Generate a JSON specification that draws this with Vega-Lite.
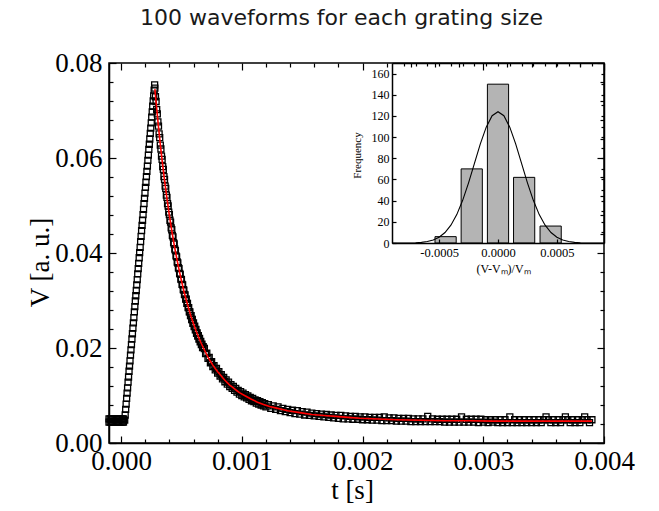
{
  "$schema": "https://vega.github.io/schema/vega-lite/v6.json",
  "width": 495,
  "height": 380,
  "autosize": {"type": "none"},
  "padding": {"left": 109, "top": 63, "right": 55, "bottom": 68},
  "title": {"text": "100 waveforms for each grating size", "font": "DejaVu Sans", "fontSize": 22, "fontWeight": "normal", "color": "#1a1a1a", "anchor": "middle", "baseline": "alphabetic", "offset": 35, "dx": -15, "dy": 33},
  "datasets": {
    "wave": [
      {"t":-0.0001,"V":0.0044},{"t":-0.0001,"V":0.0051},{"t":-0.00009,"V":0.0044},{"t":-0.00009,"V":0.0051},{"t":-0.00008,"V":0.0044},{"t":-0.00008,"V":0.0051},{"t":-0.00007,"V":0.0044},{"t":-0.00007,"V":0.0051},{"t":-0.00006,"V":0.0044},{"t":-0.00006,"V":0.0051},{"t":-0.00005,"V":0.0044},{"t":-0.00005,"V":0.0051},{"t":-0.00004,"V":0.0044},{"t":-0.00004,"V":0.0051},{"t":-0.00003,"V":0.0044},{"t":-0.00003,"V":0.0051},{"t":-0.00002,"V":0.0044},{"t":-0.00002,"V":0.0051},{"t":-0.00001,"V":0.0044},{"t":-0.00001,"V":0.0051},{"t":0,"V":0.0044},{"t":0,"V":0.0051},{"t":0.00001,"V":0.0044},{"t":0.00001,"V":0.0051},{"t":0.00002,"V":0.0044},{"t":0.00002,"V":0.0051},
      {"t":0.00003,"V":0.0048},{"t":0.000034,"V":0.0059},{"t":0.000038,"V":0.0071},{"t":0.000042,"V":0.0082},{"t":0.000046,"V":0.0094},{"t":0.00005,"V":0.0105},{"t":0.000054,"V":0.0116},{"t":0.000058,"V":0.0128},{"t":0.000062,"V":0.0139},{"t":0.000066,"V":0.0151},{"t":0.00007,"V":0.0162},{"t":0.000074,"V":0.0173},{"t":0.000078,"V":0.0185},{"t":0.000082,"V":0.0196},{"t":0.000086,"V":0.0207},{"t":0.00009,"V":0.0219},{"t":0.000094,"V":0.023},{"t":0.000098,"V":0.0242},{"t":0.000102,"V":0.0253},{"t":0.000106,"V":0.0264},{"t":0.00011,"V":0.0276},{"t":0.000114,"V":0.0287},{"t":0.000118,"V":0.0299},{"t":0.000122,"V":0.031},{"t":0.000126,"V":0.0321},{"t":0.00013,"V":0.0333},{"t":0.000134,"V":0.0344},{"t":0.000138,"V":0.0356},{"t":0.000142,"V":0.0367},{"t":0.000146,"V":0.0378},{"t":0.00015,"V":0.039},{"t":0.000154,"V":0.0401},{"t":0.000158,"V":0.0412},{"t":0.000162,"V":0.0424},{"t":0.000166,"V":0.0435},{"t":0.00017,"V":0.0447},{"t":0.000174,"V":0.0458},{"t":0.000178,"V":0.0469},{"t":0.000182,"V":0.0481},{"t":0.000186,"V":0.0492},{"t":0.00019,"V":0.0504},{"t":0.000194,"V":0.0515},{"t":0.000198,"V":0.0526},{"t":0.000202,"V":0.0538},{"t":0.000206,"V":0.0549},{"t":0.00021,"V":0.0561},{"t":0.000214,"V":0.0572},{"t":0.000218,"V":0.0583},{"t":0.000222,"V":0.0595},{"t":0.000226,"V":0.0606},{"t":0.00023,"V":0.0618},{"t":0.000234,"V":0.0629},{"t":0.000238,"V":0.064},{"t":0.000242,"V":0.0652},{"t":0.000246,"V":0.0663},{"t":0.00025,"V":0.0674},{"t":0.000254,"V":0.0686},{"t":0.000258,"V":0.0697},{"t":0.000262,"V":0.0709},{"t":0.000266,"V":0.072},{"t":0.00027,"V":0.0731},{"t":0.000274,"V":0.0743},{"t":0.000278,"V":0.0754},
      {"t":0.00028,"V":0.0747},{"t":0.00029,"V":0.0719},{"t":0.0003,"V":0.0693},{"t":0.00031,"V":0.0667},{"t":0.00032,"V":0.0643},{"t":0.00033,"V":0.0619},{"t":0.00034,"V":0.0597},{"t":0.00035,"V":0.0576},{"t":0.00036,"V":0.0555},{"t":0.00037,"V":0.0536},{"t":0.00038,"V":0.0517},{"t":0.00039,"V":0.0499},{"t":0.0004,"V":0.0481},{"t":0.00041,"V":0.0465},{"t":0.00042,"V":0.0449},{"t":0.00043,"V":0.0434},{"t":0.00044,"V":0.0419},{"t":0.00045,"V":0.0405},{"t":0.00046,"V":0.0392},{"t":0.00047,"V":0.0379},{"t":0.00048,"V":0.0367},{"t":0.00049,"V":0.0355},{"t":0.0005,"V":0.0344},{"t":0.00051,"V":0.0333},{"t":0.00052,"V":0.0322},{"t":0.00053,"V":0.0312},{"t":0.00054,"V":0.0303},{"t":0.00055,"V":0.0294},{"t":0.00056,"V":0.0285},{"t":0.00057,"V":0.0276},{"t":0.00058,"V":0.0268},{"t":0.00059,"V":0.026},{"t":0.0006,"V":0.0253},{"t":0.00061,"V":0.0246},{"t":0.00062,"V":0.0239},{"t":0.00063,"V":0.0232},{"t":0.00064,"V":0.0226},{"t":0.00065,"V":0.022},{"t":0.00066,"V":0.0214},{"t":0.00067,"V":0.0208},{"t":0.00068,"V":0.0203},
      {"t":0.000285,"V":0.0729},{"t":0.000295,"V":0.0702},{"t":0.000305,"V":0.0676},{"t":0.000315,"V":0.0651},{"t":0.000325,"V":0.0627},{"t":0.000335,"V":0.0604},{"t":0.000345,"V":0.0582},{"t":0.000355,"V":0.0561},{"t":0.000365,"V":0.0541},{"t":0.000375,"V":0.0522},{"t":0.000385,"V":0.0504},{"t":0.000395,"V":0.0486},{"t":0.000405,"V":0.0469},{"t":0.000415,"V":0.0453},{"t":0.000425,"V":0.0437},{"t":0.000435,"V":0.0422},{"t":0.000445,"V":0.0408},{"t":0.000455,"V":0.0394},{"t":0.000465,"V":0.0381},{"t":0.000475,"V":0.0369},{"t":0.000485,"V":0.0357},{"t":0.000495,"V":0.0345},{"t":0.000505,"V":0.0334},{"t":0.000515,"V":0.0323},{"t":0.000525,"V":0.0313},{"t":0.000535,"V":0.0303},{"t":0.000545,"V":0.0294},{"t":0.000555,"V":0.0285},{"t":0.000565,"V":0.0276},{"t":0.000575,"V":0.0268},{"t":0.000585,"V":0.026},{"t":0.000595,"V":0.0252},{"t":0.000605,"V":0.0245},{"t":0.000615,"V":0.0238},{"t":0.000625,"V":0.0231},{"t":0.000635,"V":0.0225},{"t":0.000645,"V":0.0219},{"t":0.000655,"V":0.0213},{"t":0.000665,"V":0.0207},{"t":0.000675,"V":0.0201},
      {"t":0.00069,"V":0.0199},{"t":0.0007,"V":0.0188},{"t":0.00071,"V":0.0189},{"t":0.00072,"V":0.0178},{"t":0.00073,"V":0.018},{"t":0.00074,"V":0.0169},{"t":0.00075,"V":0.0171},{"t":0.00076,"V":0.0161},{"t":0.00077,"V":0.0163},{"t":0.00078,"V":0.0154},{"t":0.00079,"V":0.0157},{"t":0.0008,"V":0.0147},{"t":0.00081,"V":0.015},{"t":0.00082,"V":0.0141},{"t":0.00083,"V":0.0144},{"t":0.00084,"V":0.0135},{"t":0.00085,"V":0.0138},{"t":0.00086,"V":0.0129},{"t":0.00087,"V":0.0133},{"t":0.00088,"V":0.0124},{"t":0.00089,"V":0.0128},{"t":0.0009,"V":0.0119},{"t":0.00091,"V":0.0123},{"t":0.00092,"V":0.0115},{"t":0.00093,"V":0.0119},{"t":0.00094,"V":0.0111},{"t":0.00095,"V":0.0115},{"t":0.00096,"V":0.0107},{"t":0.00097,"V":0.0111},{"t":0.00098,"V":0.0103},{"t":0.00099,"V":0.0108},{"t":0.001,"V":0.01},{"t":0.00101,"V":0.0105},{"t":0.00102,"V":0.0097},{"t":0.00103,"V":0.0102},{"t":0.00104,"V":0.0095},{"t":0.00105,"V":0.0099},{"t":0.00106,"V":0.0092},{"t":0.00107,"V":0.0096},{"t":0.00108,"V":0.0089},{"t":0.00109,"V":0.0094},{"t":0.0011,"V":0.0087},{"t":0.00111,"V":0.0091},{"t":0.00112,"V":0.0084},{"t":0.00113,"V":0.0089},{"t":0.00114,"V":0.0082},{"t":0.00115,"V":0.0087},{"t":0.00116,"V":0.008},{"t":0.00117,"V":0.0085},{"t":0.00118,"V":0.0078},{"t":0.00119,"V":0.0083},{"t":0.0012,"V":0.0076},
      {"t":0.00122,"V":0.0081},{"t":0.00124,"V":0.0073},{"t":0.00126,"V":0.0078},{"t":0.00128,"V":0.0071},{"t":0.0013,"V":0.0076},{"t":0.00132,"V":0.0068},{"t":0.00134,"V":0.0073},{"t":0.00136,"V":0.0066},{"t":0.00138,"V":0.0071},{"t":0.0014,"V":0.0064},{"t":0.00142,"V":0.0069},{"t":0.00144,"V":0.0062},{"t":0.00146,"V":0.0068},{"t":0.00148,"V":0.0061},{"t":0.0015,"V":0.0066},{"t":0.00152,"V":0.0059},{"t":0.00154,"V":0.0065},{"t":0.00156,"V":0.0058},{"t":0.00158,"V":0.0063},{"t":0.0016,"V":0.0057},{"t":0.00162,"V":0.0062},{"t":0.00164,"V":0.0056},{"t":0.00166,"V":0.0061},{"t":0.00168,"V":0.0055},{"t":0.0017,"V":0.006},{"t":0.00172,"V":0.0054},{"t":0.00174,"V":0.0059},{"t":0.00176,"V":0.0053},{"t":0.00178,"V":0.0058},{"t":0.0018,"V":0.0052},{"t":0.00182,"V":0.0058},{"t":0.00184,"V":0.0051},{"t":0.00186,"V":0.0057},{"t":0.00188,"V":0.0051},{"t":0.0019,"V":0.0056},{"t":0.00192,"V":0.005},{"t":0.00194,"V":0.0056},{"t":0.00196,"V":0.005},{"t":0.00198,"V":0.0055},{"t":0.002,"V":0.0049},{"t":0.00202,"V":0.0055},{"t":0.00204,"V":0.0049},{"t":0.00206,"V":0.0054},{"t":0.00208,"V":0.0048},{"t":0.0021,"V":0.0054},{"t":0.00212,"V":0.0048},{"t":0.00214,"V":0.0054},{"t":0.00216,"V":0.0047},{"t":0.00218,"V":0.0055},{"t":0.0022,"V":0.0047},{"t":0.00222,"V":0.0053},{"t":0.00224,"V":0.0047},{"t":0.00226,"V":0.0053},{"t":0.00228,"V":0.0046},{"t":0.0023,"V":0.0052},{"t":0.00232,"V":0.0046},{"t":0.00234,"V":0.0052},{"t":0.00236,"V":0.0046},{"t":0.00238,"V":0.0052},{"t":0.0024,"V":0.0045},{"t":0.00242,"V":0.0051},{"t":0.00244,"V":0.0045},{"t":0.00246,"V":0.0051},{"t":0.00248,"V":0.0045},{"t":0.0025,"V":0.0051},{"t":0.00252,"V":0.0045},{"t":0.00254,"V":0.0056},{"t":0.00256,"V":0.0045},{"t":0.00258,"V":0.0051},{"t":0.0026,"V":0.0045},{"t":0.00262,"V":0.005},{"t":0.00264,"V":0.0045},{"t":0.00266,"V":0.005},{"t":0.00268,"V":0.0044},{"t":0.0027,"V":0.005},{"t":0.00272,"V":0.0044},{"t":0.00274,"V":0.005},{"t":0.00276,"V":0.0044},{"t":0.00278,"V":0.005},{"t":0.0028,"V":0.0044},{"t":0.00282,"V":0.0055},{"t":0.00284,"V":0.0044},{"t":0.00286,"V":0.005},{"t":0.00288,"V":0.0044},{"t":0.0029,"V":0.005},{"t":0.00292,"V":0.0044},{"t":0.00294,"V":0.005},{"t":0.00296,"V":0.0043},{"t":0.00298,"V":0.005},{"t":0.003,"V":0.0044},{"t":0.00302,"V":0.0049},{"t":0.00304,"V":0.0043},{"t":0.00306,"V":0.0049},{"t":0.00308,"V":0.0044},{"t":0.0031,"V":0.0049},{"t":0.00312,"V":0.0043},{"t":0.00314,"V":0.0049},{"t":0.00316,"V":0.0043},{"t":0.00318,"V":0.0049},{"t":0.0032,"V":0.0043},{"t":0.00322,"V":0.0055},{"t":0.00324,"V":0.0043},{"t":0.00326,"V":0.0049},{"t":0.00328,"V":0.0043},{"t":0.0033,"V":0.0049},{"t":0.00332,"V":0.0043},{"t":0.00334,"V":0.0049},{"t":0.00336,"V":0.0043},{"t":0.00338,"V":0.0049},{"t":0.0034,"V":0.0043},{"t":0.00342,"V":0.0049},{"t":0.00344,"V":0.0043},{"t":0.00346,"V":0.0049},{"t":0.00348,"V":0.0043},{"t":0.0035,"V":0.0049},{"t":0.00352,"V":0.0055},{"t":0.00354,"V":0.0049},{"t":0.00356,"V":0.0043},{"t":0.00358,"V":0.0049},{"t":0.0036,"V":0.0043},{"t":0.00362,"V":0.0049},{"t":0.00364,"V":0.0043},{"t":0.00366,"V":0.0049},{"t":0.00368,"V":0.0055},{"t":0.0037,"V":0.0049},{"t":0.00372,"V":0.0043},{"t":0.00374,"V":0.0049},{"t":0.00376,"V":0.0043},{"t":0.00378,"V":0.0049},{"t":0.0038,"V":0.0043},{"t":0.00382,"V":0.0049},{"t":0.00384,"V":0.0055},{"t":0.00386,"V":0.0049},{"t":0.00388,"V":0.0043},{"t":0.0039,"V":0.0049}
    ],
    "fit": [
      {"t":0.00028,"V":0.0745},{"t":0.00029,"V":0.0717},{"t":0.0003,"V":0.0691},{"t":0.00031,"V":0.0665},{"t":0.00032,"V":0.0641},{"t":0.00033,"V":0.0617},{"t":0.00034,"V":0.0595},{"t":0.00035,"V":0.0574},{"t":0.00036,"V":0.0553},{"t":0.00037,"V":0.0534},{"t":0.00038,"V":0.0515},{"t":0.0004,"V":0.0479},{"t":0.00042,"V":0.0447},{"t":0.00044,"V":0.0417},{"t":0.00046,"V":0.039},{"t":0.00048,"V":0.0365},{"t":0.0005,"V":0.0342},{"t":0.00052,"V":0.032},{"t":0.00054,"V":0.0301},{"t":0.00056,"V":0.0283},{"t":0.00058,"V":0.0266},{"t":0.0006,"V":0.0251},{"t":0.00062,"V":0.0237},{"t":0.00064,"V":0.0224},{"t":0.00066,"V":0.0212},{"t":0.00068,"V":0.0201},{"t":0.0007,"V":0.0191},{"t":0.00072,"V":0.0181},{"t":0.00074,"V":0.0172},{"t":0.00076,"V":0.0164},{"t":0.00078,"V":0.0157},{"t":0.0008,"V":0.015},{"t":0.00082,"V":0.0144},{"t":0.00084,"V":0.0138},{"t":0.00086,"V":0.0132},{"t":0.00088,"V":0.0127},{"t":0.0009,"V":0.0122},{"t":0.00092,"V":0.0118},{"t":0.00094,"V":0.0114},{"t":0.00096,"V":0.011},{"t":0.00098,"V":0.0106},{"t":0.00103,"V":0.0099},{"t":0.00108,"V":0.0092},{"t":0.00113,"V":0.0086},{"t":0.00118,"V":0.0081},{"t":0.00123,"V":0.0077},{"t":0.00128,"V":0.0074},{"t":0.00138,"V":0.0068},{"t":0.00148,"V":0.0064},{"t":0.00158,"V":0.006},{"t":0.00168,"V":0.0058},{"t":0.00178,"V":0.0056},{"t":0.00188,"V":0.0054},{"t":0.00198,"V":0.0052},{"t":0.00208,"V":0.0051},{"t":0.00218,"V":0.005},{"t":0.00228,"V":0.0049},{"t":0.00248,"V":0.0048},{"t":0.00268,"V":0.0047},{"t":0.00288,"V":0.0047},{"t":0.00308,"V":0.0046},{"t":0.0033,"V":0.0046},{"t":0.0036,"V":0.0046},{"t":0.0039,"V":0.0046}
    ],
    "hist": [
      {"lo":-0.000535,"hi":-0.000355,"n":6},{"lo":-0.000313,"hi":-0.000133,"n":70},{"lo":-0.00009,"hi":0.00009,"n":150},{"lo":0.000132,"hi":0.000312,"n":62},{"lo":0.000357,"hi":0.000537,"n":16}
    ],
    "gauss": [
      {"x":-0.0009,"f":0},{"x":-0.0008,"f":0.04},{"x":-0.0007,"f":0.3},{"x":-0.00065,"f":0.6},{"x":-0.0006,"f":1.4},{"x":-0.00055,"f":2.8},{"x":-0.0005,"f":5.4},{"x":-0.00045,"f":9.9},{"x":-0.0004,"f":16.8},{"x":-0.00035,"f":26.8},{"x":-0.0003,"f":40.3},{"x":-0.00025,"f":56.8},{"x":-0.0002,"f":75.2},{"x":-0.00015,"f":93.6},{"x":-0.0001,"f":109.4},{"x":-0.00005,"f":120.2},{"x":0,"f":124},{"x":0.00005,"f":120.2},{"x":0.0001,"f":109.4},{"x":0.00015,"f":93.6},{"x":0.0002,"f":75.2},{"x":0.00025,"f":56.8},{"x":0.0003,"f":40.3},{"x":0.00035,"f":26.8},{"x":0.0004,"f":16.8},{"x":0.00045,"f":9.9},{"x":0.0005,"f":5.4},{"x":0.00055,"f":2.8},{"x":0.0006,"f":1.4},{"x":0.00065,"f":0.6},{"x":0.0007,"f":0.3},{"x":0.0008,"f":0.04},{"x":0.0009,"f":0}
    ]
  },
  "layer": [
    {
      "layer": [
        {
          "data": {"name": "wave"},
          "mark": {"type": "point", "shape": "square", "filled": false, "stroke": "black", "strokeWidth": 1.3, "size": 36, "opacity": 1},
          "encoding": {
            "x": {"field": "t", "type": "quantitative", "scale": {"domain": [-0.0001, 0.004], "nice": false, "zero": false},
              "axis": {"orient": "bottom", "values": [0, 0.001, 0.002, 0.003, 0.004], "format": ".3f", "tickSize": -7, "labelPadding": 12, "title": "t [s]", "titleX": 243, "titleY": 47, "titleBaseline": "middle", "titleAlign": "center"}},
            "y": {"field": "V", "type": "quantitative", "scale": {"domain": [0, 0.08], "nice": false, "zero": false},
              "axis": {"orient": "left", "values": [0, 0.02, 0.04, 0.06, 0.08], "format": ".2f", "tickSize": -7, "labelPadding": 14, "title": "V [a. u.]", "titleX": -69, "titleY": 199, "titleAngle": -90, "titleBaseline": "middle", "titleAlign": "center"}}
          }
        },
        {
          "data": {"name": "fit"},
          "mark": {"type": "line", "color": "#ff0000", "strokeWidth": 1.6},
          "encoding": {
            "x": {"field": "t", "type": "quantitative", "scale": {"domain": [-0.0001, 0.004], "nice": false, "zero": false},
              "axis": {"orient": "bottom", "values": [0.0002, 0.0004, 0.0006, 0.0008, 0.0012, 0.0014, 0.0016, 0.0018, 0.0022, 0.0024, 0.0026, 0.0028, 0.0032, 0.0034, 0.0036, 0.0038], "labels": false, "domain": false, "title": null, "tickSize": -4}},
            "y": {"field": "V", "type": "quantitative", "scale": {"domain": [0, 0.08], "nice": false, "zero": false},
              "axis": {"orient": "left", "values": [0.004, 0.008, 0.012, 0.016, 0.024, 0.028, 0.032, 0.036, 0.044, 0.048, 0.052, 0.056, 0.064, 0.068, 0.072, 0.076], "labels": false, "domain": false, "title": null, "tickSize": -4}}
          }
        },
        {
          "data": {"name": "fit"},
          "mark": {"type": "line", "opacity": 0},
          "encoding": {
            "x": {"field": "t", "type": "quantitative", "scale": {"domain": [-0.0001, 0.004], "nice": false, "zero": false},
              "axis": {"orient": "top", "values": [0, 0.001, 0.002, 0.003, 0.004], "labels": false, "domain": false, "title": null, "tickSize": -7}},
            "y": {"field": "V", "type": "quantitative", "scale": {"domain": [0, 0.08], "nice": false, "zero": false},
              "axis": {"orient": "right", "values": [0, 0.02, 0.04, 0.06, 0.08], "labels": false, "domain": false, "title": null, "tickSize": -7}}
          }
        },
        {
          "data": {"name": "fit"},
          "mark": {"type": "line", "opacity": 0},
          "encoding": {
            "x": {"field": "t", "type": "quantitative", "scale": {"domain": [-0.0001, 0.004], "nice": false, "zero": false},
              "axis": {"orient": "top", "values": [0.0002, 0.0004, 0.0006, 0.0008, 0.0012, 0.0014, 0.0016, 0.0018, 0.0022, 0.0024, 0.0026, 0.0028, 0.0032, 0.0034, 0.0036, 0.0038], "labels": false, "domain": false, "title": null, "tickSize": -4}},
            "y": {"field": "V", "type": "quantitative", "scale": {"domain": [0, 0.08], "nice": false, "zero": false},
              "axis": {"orient": "right", "values": [0.004, 0.008, 0.012, 0.016, 0.024, 0.028, 0.032, 0.036, 0.044, 0.048, 0.052, 0.056, 0.064, 0.068, 0.072, 0.076], "labels": false, "domain": false, "title": null, "tickSize": -4}}
          }
        }
      ],
      "resolve": {"axis": {"x": "independent", "y": "independent"}}
    },
    {
      "layer": [
        {
          "data": {"name": "hist"},
          "mark": {"type": "bar", "fill": "#b4b4b4", "stroke": "black", "strokeWidth": 1},
          "encoding": {
            "x": {"field": "lo", "type": "quantitative", "scale": {"domain": [-0.0009, 0.0009], "range": [283, 495], "nice": false, "zero": false},
              "axis": {"orient": "bottom", "offset": -200, "values": [-0.0005, 0, 0.0005], "labelExpr": "datum.value < 0 ? '-' + format(-datum.value, '.4f') : format(datum.value, '.4f')", "labelFontSize": 12.5, "labelPadding": 7, "tickSize": -4, "title": "(V-Vₘ)/Vₘ", "titleFontSize": 12, "titleX": 394, "titleY": 25, "titleBaseline": "middle", "titleAlign": "center", "zindex": 1}},
            "x2": {"field": "hi"},
            "y": {"field": "n", "type": "quantitative", "scale": {"domain": [0, 170], "range": [180, 0], "nice": false},
              "axis": {"orient": "left", "offset": -283, "values": [0, 20, 40, 60, 80, 100, 120, 140, 160], "format": "d", "labelFontSize": 12, "labelPadding": 7, "tickSize": -4, "title": "Frequency", "titleFontSize": 11, "titleX": -35, "titleY": 92, "titleAngle": -90, "titleBaseline": "middle", "titleAlign": "center", "zindex": 1}},
            "y2": {"datum": 0}
          }
        },
        {
          "data": {"name": "gauss"},
          "mark": {"type": "line", "color": "black", "strokeWidth": 1.1},
          "encoding": {
            "x": {"field": "x", "type": "quantitative", "scale": {"domain": [-0.0009, 0.0009], "range": [283, 495], "nice": false, "zero": false},
              "axis": {"orient": "top", "values": [-0.0008, -0.0007, -0.0006, -0.0005, -0.0004, -0.0003, -0.0002, -0.0001, 0, 0.0001, 0.0002, 0.0003, 0.0004, 0.0005, 0.0006, 0.0007, 0.0008], "labels": false, "title": null, "tickSize": -3, "zindex": 1}},
            "y": {"field": "f", "type": "quantitative", "scale": {"domain": [0, 170], "range": [180, 0], "nice": false},
              "axis": {"orient": "right", "values": [10, 20, 30, 40, 50, 60, 70, 80, 90, 100, 110, 120, 130, 140, 150, 160], "labels": false, "title": null, "tickSize": -3, "zindex": 1}}
          }
        }
      ],
      "resolve": {"axis": {"x": "independent", "y": "independent"}}
    }
  ],
  "resolve": {"scale": {"x": "independent", "y": "independent"}},
  "config": {
    "view": {"stroke": "black", "strokeWidth": 1.5},
    "axis": {"labelFont": "Liberation Serif", "labelFontSize": 27, "labelColor": "black", "titleFont": "Liberation Serif", "titleFontSize": 27, "titleFontWeight": "normal", "titleColor": "black", "domainColor": "black", "domainWidth": 1.5, "tickColor": "black", "tickWidth": 1.2, "grid": false, "labelFlush": false, "labelOverlap": false, "labelBound": false}
  }
}
